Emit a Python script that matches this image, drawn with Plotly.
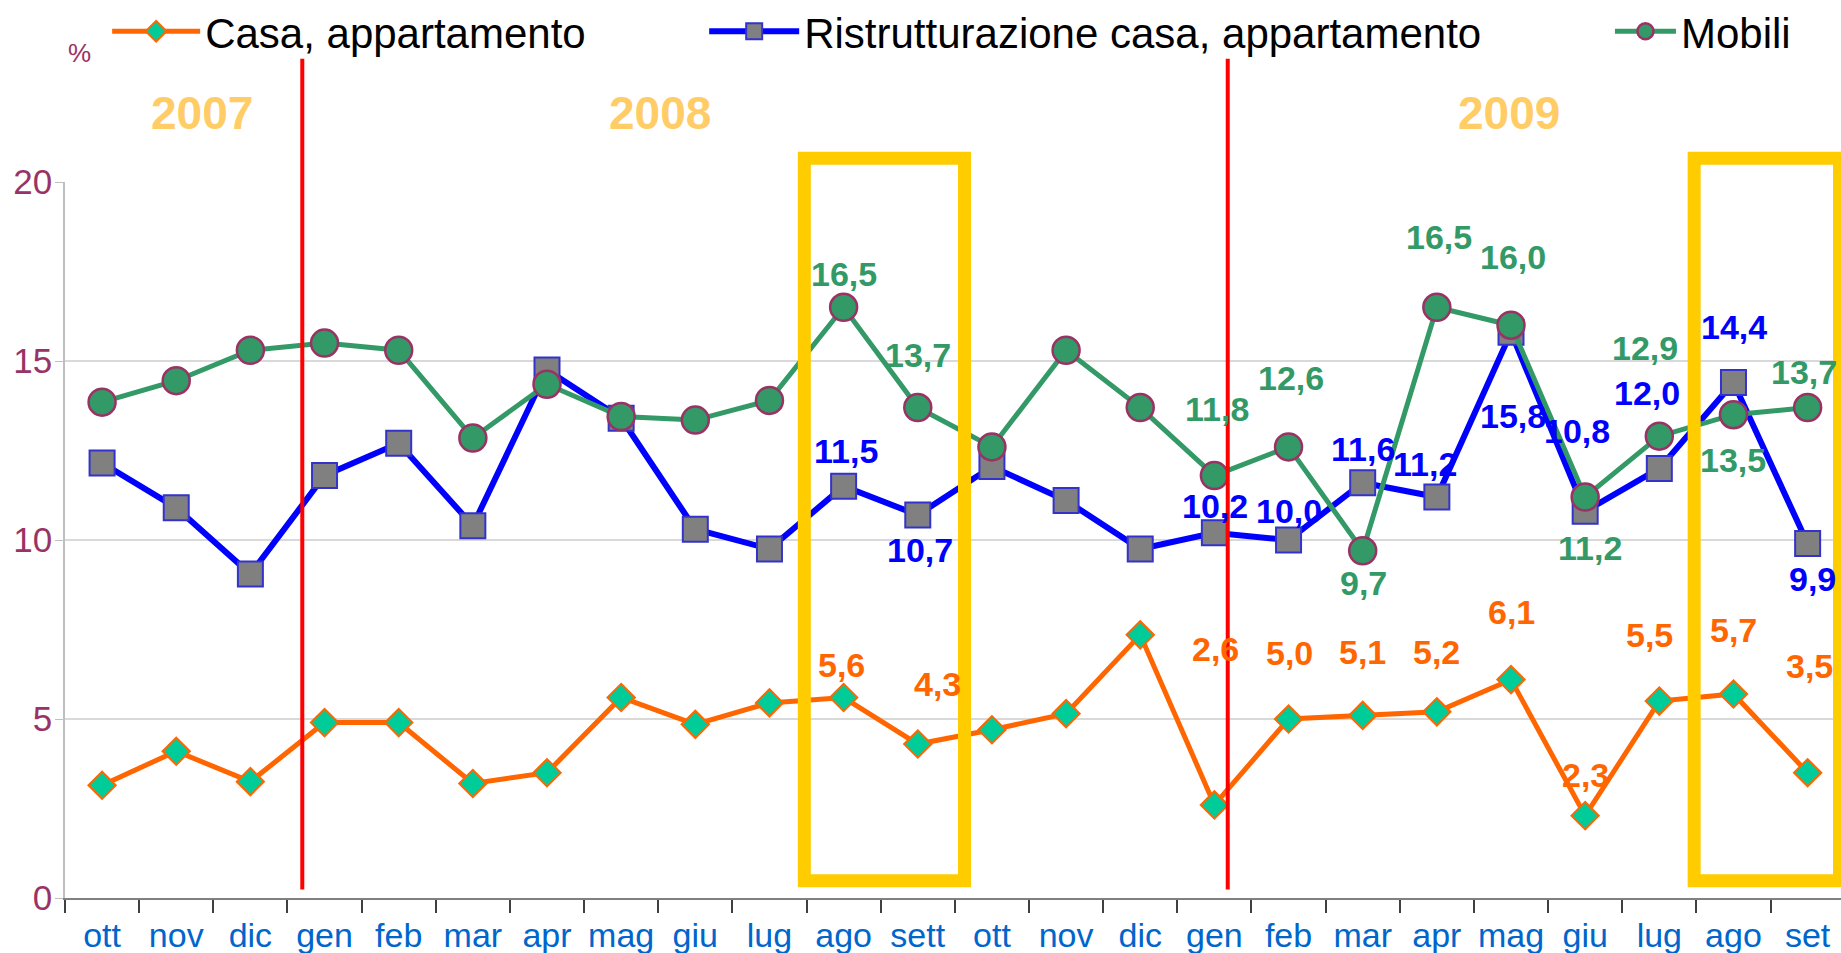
import plotly.graph_objects as go

months = ["ott", "nov", "dic", "gen", "feb", "mar", "apr", "mag", "giu", "lug", "ago", "sett",
          "ott", "nov", "dic", "gen", "feb", "mar", "apr", "mag", "giu", "lug", "ago", "set"]

casa = [3.15, 4.1, 3.25, 4.9, 4.9, 3.2, 3.5, 5.6, 4.85, 5.45, 5.6, 4.3,
        4.7, 5.15, 7.35, 2.6, 5.0, 5.1, 5.2, 6.1, 2.3, 5.5, 5.7, 3.5]
ristrutturazione = [12.15, 10.9, 9.05, 11.8, 12.7, 10.4, 14.75, 13.4, 10.3, 9.75, 11.5, 10.7,
                    12.05, 11.1, 9.75, 10.2, 10.0, 11.6, 11.2, 15.8, 10.8, 12.0, 14.4, 9.9]
mobili = [13.85, 14.45, 15.3, 15.5, 15.3, 12.85, 14.35, 13.45, 13.35, 13.9, 16.5, 13.7,
          12.6, 15.3, 13.7, 11.8, 12.6, 9.7, 16.5, 16.0, 11.2, 12.9, 13.5, 13.7]

labelled = [10, 11, 15, 16, 17, 18, 19, 20, 21, 22, 23]
years = ["2007", "2008", "2009"]

# label offsets in pixels (dx, dy up) - styling only
casa_off = {10: (-2, 33), 11: (20, 60), 15: (1, 156), 16: (1, 66), 17: (0, 63), 18: (0, 60),
            19: (0, 68), 20: (0, 41), 21: (-10, 66), 22: (0, 64), 23: (2, 107)}
ristr_off = {10: (2, 35), 11: (2, -35), 15: (1, 27), 16: (0, 29), 17: (0, 34), 18: (-12, 33),
             19: (2, -84), 20: (-8, 80), 21: (-12, 75), 22: (1, 55), 23: (5, -35)}
mob_off = {10: (0, 33), 11: (0, 53), 15: (3, 67), 16: (2, 69), 17: (1, -32), 18: (2, 70),
           19: (2, 68), 20: (5, -51), 21: (-14, 88), 22: (0, -45), 23: (-4, 36)}

FONT = "Liberation Sans, Arial, sans-serif"

x = list(range(len(months)))

fig = go.Figure()
fig.add_trace(go.Scatter(
    x=x, y=casa, name="Casa, appartamento", mode="lines+markers", legend="legend",
    line=dict(color="#FF6600", width=5),
    marker=dict(symbol="diamond", size=21, color="#00CC99", line=dict(color="#FF6600", width=2)),
))
fig.add_trace(go.Scatter(
    x=x, y=ristrutturazione, name="Ristrutturazione casa, appartamento", mode="lines+markers",
    legend="legend2",
    line=dict(color="#0000FF", width=6),
    marker=dict(symbol="square", size=25, color="#808080", line=dict(color="#3333CC", width=2)),
))
fig.add_trace(go.Scatter(
    x=x, y=mobili, name="Mobili", mode="lines+markers", legend="legend3",
    line=dict(color="#339966", width=5),
    marker=dict(symbol="circle", size=27, color="#339966", line=dict(color="#993366", width=2.5)),
))

anns = []
for series, offs, col in [(casa, casa_off, "#FF6600"), (ristrutturazione, ristr_off, "#0000FF"),
                          (mobili, mob_off, "#339966")]:
    for i in labelled:
        dx, dy = offs[i]
        anns.append(dict(x=i, y=series[i], xref="x", yref="y", showarrow=False,
                         xanchor="center", yanchor="middle",
                         text=f"{series[i]:.1f}".replace(".", ","), xshift=dx, yshift=dy,
                         font=dict(family=FONT, size=34, color=col, weight="bold")))

for yr, xp in zip(years, [1.35, 7.52, 18.97]):
    anns.append(dict(x=xp, y=1.096, xref="x", yref="paper", showarrow=False, text=yr,
                     xanchor="center", yanchor="middle",
                     font=dict(family=FONT, size=46, color="#FFCC66", weight="bold")))

anns.append(dict(x=0.0084, y=1.18, xref="paper", yref="paper", showarrow=False, text="%",
                 xanchor="center", yanchor="middle",
                 font=dict(family=FONT, size=26, color="#993366")))

shapes = []
for xv in [2.70, 15.18]:
    shapes.append(dict(type="line", xref="x", yref="paper", x0=xv, x1=xv, y0=0.012, y1=1.172,
                       line=dict(color="#FF0000", width=4), layer="above"))
for x0, x1 in [(9.47, 11.63), (21.47, 23.43)]:
    shapes.append(dict(type="rect", xref="x", yref="paper", x0=x0, x1=x1, y0=0.024, y1=1.033,
                       line=dict(color="#FFCC00", width=13), fillcolor="rgba(0,0,0,0)",
                       layer="above"))

legend_common = dict(orientation="h", xref="container", yref="container",
                     yanchor="middle", y=0.967, xanchor="left",
                     bgcolor="rgba(0,0,0,0)", font=dict(family=FONT, size=42, color="#000000"))

fig.update_layout(
    width=1841, height=953, autosize=False,
    margin=dict(l=65, r=0, t=182, b=55, autoexpand=False),
    plot_bgcolor="white", paper_bgcolor="white",
    showlegend=True,
    legend=dict(x=0.0582, itemwidth=88, **legend_common),
    legend2=dict(x=0.3825, itemwidth=90, **legend_common),
    legend3=dict(x=0.8745, itemwidth=61, **legend_common),
    annotations=anns, shapes=shapes,
    xaxis=dict(range=[-0.5, 23.45], tickmode="array", tickvals=x, ticktext=months,
               ticks="", showline=True, linecolor="#808080", linewidth=2, showgrid=False,
               zeroline=False, ticklabelstandoff=6, automargin=False,
               tickfont=dict(family=FONT, size=34, color="#0066CC"),
               minor=dict(tickmode="array", tickvals=[i - 0.5 for i in range(25)],
                          ticks="outside", ticklen=13, tickcolor="#404040", tickwidth=1.5,
                          showgrid=False)),
    yaxis=dict(range=[0, 20], tickmode="array", tickvals=[0, 5, 10, 15, 20],
               showgrid=True, gridcolor="#D9D9D9", gridwidth=1.5, showline=True,
               linecolor="#BFBFBF", linewidth=1.5, ticks="outside", ticklen=8,
               tickcolor="#BFBFBF", zeroline=False, ticklabelstandoff=-4, automargin=False,
               tickfont=dict(family=FONT, size=35, color="#993366")),
)

fig.write_html("out.html", config={"displayModeBar": False},
               post_script="document.body.style.margin='0';")
